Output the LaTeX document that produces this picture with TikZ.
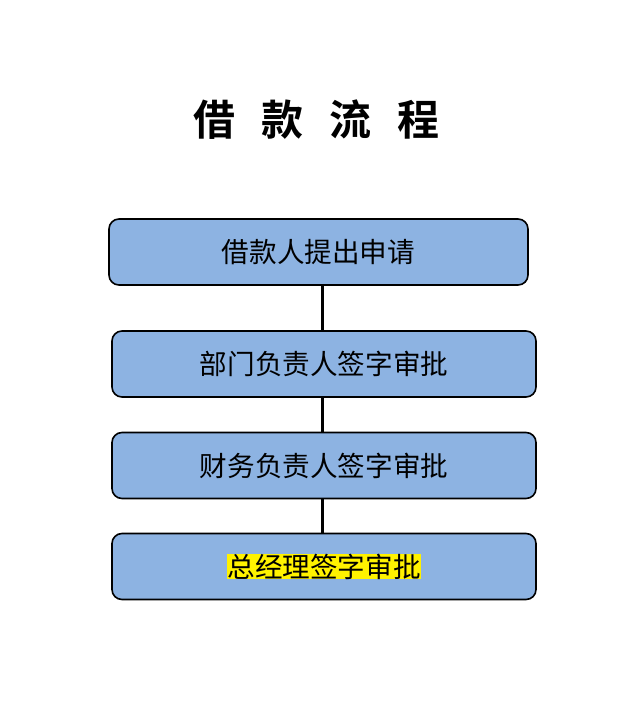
\documentclass[tikz,border=0pt]{standalone}
\usepackage{fontspec}
\usetikzlibrary{positioning, calc}
\newfontfamily\cjk{Noto Sans CJK SC}[BoldFont={Noto Sans CJK SC Bold}]
\definecolor{stepblue}{HTML}{8DB3E2}

\begin{document}
\begin{tikzpicture}[
  x = 1pt, y = -1pt,
  stepbox/.style={draw=black, line width=1.6pt, fill=stepblue, rounded corners=10pt,
    minimum width=424pt, minimum height=66pt, inner sep=0pt,
    font=\cjk\fontsize{27.6pt}{30pt}\selectfont},
  link/.style={line width=2.6pt, black},
  every text node part/.style={align=center}
]
%general params
\def\gap{\hspace{26pt}} %title spacing
\def\cx{324}
\useasboundingbox (0,0) rectangle (640,701);

%title
\node[font=\cjk\bfseries\fontsize{42pt}{46pt}\selectfont] (title) at (316.5,120)
  {借\gap 款\gap 流\gap 程};

%steps
\node[stepbox, minimum width=419pt] (apply)   at (318.5,252)   {借款人提出申请};
\node[stepbox] (dept)    at (\cx,364)   {部门负责人签字审批};
\node[stepbox] (finance) at (\cx,465.5) {财务负责人签字审批};
\node[stepbox] (manager) at (\cx,566.5)
  {\setlength{\fboxsep}{0pt}\colorbox{yellow}{总经理签字审批}};

%connectors
\draw[link] (dept.north -| 322.7,0) -- (apply.south -| 322.7,0);
\draw[link] (dept.south -| 322.7,0) -- (finance.north -| 322.7,0);
\draw[link] (finance.south -| 322.7,0) -- (manager.north -| 322.7,0);

\end{tikzpicture}
\end{document}
